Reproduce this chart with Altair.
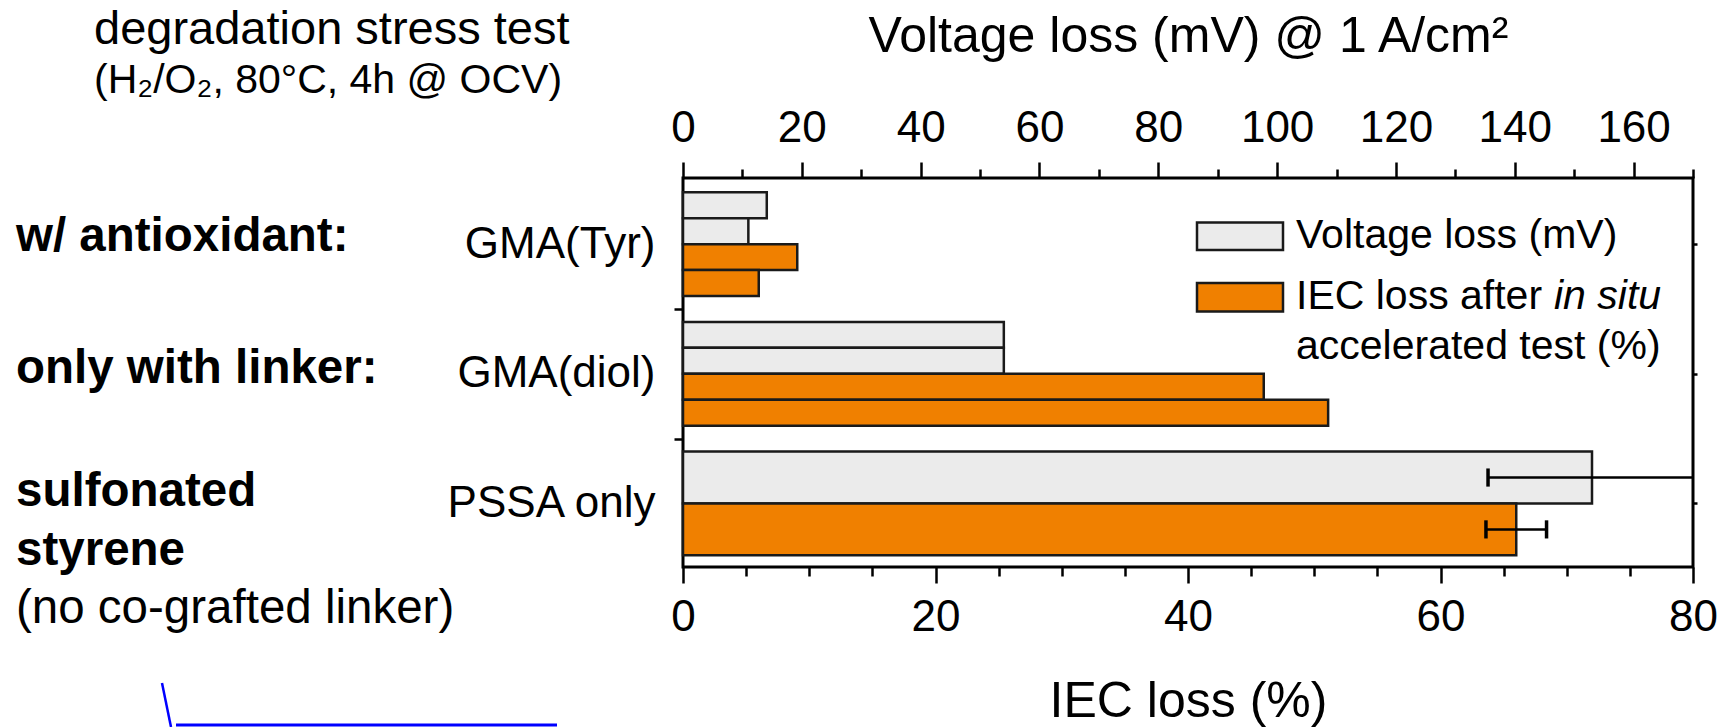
import altair as alt
import pandas as pd

# ---- data ----
samples = ["GMA(Tyr)", "GMA(diol)", "PSSA only"]

volt_sample = ["GMA(Tyr)", "GMA(Tyr)", "GMA(diol)", "GMA(diol)", "PSSA only"]
volt_mV = [14.1, 11.0, 54.0, 54.0, 153.0]
volt_err = [0.0, 0.0, 0.0, 0.0, 17.5]

iec_sample = ["GMA(Tyr)", "GMA(Tyr)", "GMA(diol)", "GMA(diol)", "PSSA only"]
iec_pct = [9.05, 6.0, 46.0, 51.1, 66.0]
iec_err = [0.0, 0.0, 0.0, 0.0, 2.4]

top_major = [0, 20, 40, 60, 80, 100, 120, 140, 160]
top_minor = [10, 30, 50, 70, 90, 110, 130, 150, 170]
bot_major = [0, 20, 40, 60, 80]
bot_minor = [5, 10, 15, 25, 30, 35, 45, 50, 55, 65, 70, 75]

# ---- build bar table (row slots inside each sample group) ----
rows = []
for g, s in enumerate(samples):
    v = [(val, e) for smp, val, e in zip(volt_sample, volt_mV, volt_err) if smp == s]
    i = [(val, e) for smp, val, e in zip(iec_sample, iec_pct, iec_err) if smp == s]
    n = len(v) + len(i)
    h = 4.0 / n
    k = 0
    for series, items in (("volt", v), ("iec", i)):
        for val, e in items:
            y0 = 5 * g + k * h
            y1 = y0 + h
            rows.append(dict(sample=s, series=series, value=val, err=e,
                             y0=y0, y1=y1, yc=(y0 + y1) / 2,
                             lo=val - e, hi=val + e,
                             c0=(y0 + y1) / 2 - 0.35, c1=(y0 + y1) / 2 + 0.35))
            k += 1
df = pd.DataFrame(rows)
vdf = df[df.series == "volt"]
idf = df[df.series == "iec"]
verr = vdf[vdf.err > 0]
ierr = idf[idf.err > 0]


def caps(d):
    out = []
    for _, r in d.iterrows():
        out.append(dict(x=r.lo, c0=r.c0, c1=r.c1))
        out.append(dict(x=r.hi, c0=r.c0, c1=r.c1))
    return pd.DataFrame(out)


FONT = "Liberation Sans"
STROKE = "#1a1a1a"
GREY = "#ebebeb"
ORANGE = "#f08000"

y_scale = alt.Scale(domain=[-0.55, 14.45], reverse=True, nice=False, zero=False)
xv_scale = alt.Scale(domain=[0, 170], nice=False, zero=False)
xi_scale = alt.Scale(domain=[0, 80], nice=False, zero=False)

group_centers = [2, 7, 12]
left_vals = [2, 4.5, 7, 9.5, 12]
label_expr = ("datum.value == 2 ? 'GMA(Tyr)' : datum.value == 7 ? 'GMA(diol)' : "
              "datum.value == 12 ? 'PSSA only' : ''")

left_axis = alt.Axis(orient="left", values=left_vals, labelExpr=label_expr, title=None,
                     tickSize=9, labelPadding=19, grid=False, domain=False,
                     labelFontSize=44, labelFont=FONT, labelLimit=0,
                     tickOpacity={"condition": {"test": "datum.value == 2 || datum.value == 7 || datum.value == 12",
                                                "value": 0}, "value": 1})
right_axis = alt.Axis(orient="right", values=group_centers, labels=False, title=None,
                      tickSize=4, grid=False, domain=False)

top_axis = alt.Axis(orient="top", values=top_major, tickSize=16, labelPadding=12, grid=False,
                    domain=False, labelFontSize=44, labelFont=FONT, labelFlush=False,
                    title="Voltage loss (mV) @ 1 A/cm²", titleFontSize=50, titleFont=FONT,
                    titleFontWeight="normal", titlePadding=45)
top_minor_axis = alt.Axis(orient="top", values=top_minor, tickSize=9, labels=False,
                          grid=False, domain=False, title=None)
bot_axis = alt.Axis(orient="bottom", values=bot_major, tickSize=16, labelPadding=12, grid=False,
                    domain=False, labelFontSize=44, labelFont=FONT, labelFlush=False,
                    title="IEC loss (%)", titleFontSize=50, titleFont=FONT,
                    titleFontWeight="normal", titlePadding=37)
bot_minor_axis = alt.Axis(orient="bottom", values=bot_minor, tickSize=9, labels=False,
                          grid=False, domain=False, title=None)

grey_bars = alt.Chart(vdf).mark_rect(fill=GREY, stroke=STROKE, strokeWidth=2.5).encode(
    x=alt.X("value:Q", scale=xv_scale, axis=top_axis),
    x2=alt.datum(0),
    y=alt.Y("y0:Q", scale=y_scale, axis=left_axis),
    y2="y1:Q",
)
grey_err = alt.Chart(verr).mark_rule(color="black", strokeWidth=2.5, clip=True).encode(
    x=alt.X("lo:Q", scale=xv_scale, axis=top_minor_axis),
    x2="hi:Q",
    y=alt.Y("yc:Q", scale=y_scale, axis=right_axis),
)
grey_caps = alt.Chart(caps(verr)).mark_rule(color="black", strokeWidth=3.5, clip=True).encode(
    x=alt.X("x:Q", scale=xv_scale, axis=None),
    y=alt.Y("c0:Q", scale=y_scale, axis=None),
    y2="c1:Q",
)
orange_bars = alt.Chart(idf).mark_rect(fill=ORANGE, stroke=STROKE, strokeWidth=2.5).encode(
    x=alt.X("value:Q", scale=xi_scale, axis=bot_axis),
    x2=alt.datum(0),
    y=alt.Y("y0:Q", scale=y_scale, axis=None),
    y2="y1:Q",
)
orange_err = alt.Chart(ierr).mark_rule(color="black", strokeWidth=2.5).encode(
    x=alt.X("lo:Q", scale=xi_scale, axis=bot_minor_axis),
    x2="hi:Q",
    y=alt.Y("yc:Q", scale=y_scale, axis=None),
)
orange_caps = alt.Chart(caps(ierr)).mark_rule(color="black", strokeWidth=3.5).encode(
    x=alt.X("x:Q", scale=xi_scale, axis=None),
    y=alt.Y("c0:Q", scale=y_scale, axis=None),
    y2="c1:Q",
)

one = alt.Data(values=[{"a": 1}])


def txt(s, x, y, size, weight="normal", style="normal", font=FONT, align="left"):
    return alt.Chart(one).mark_text(text=s, align=align, baseline="middle", fontSize=size,
                                    fontWeight=weight, fontStyle=style, font=font,
                                    color="black").encode(x=alt.value(x), y=alt.value(y))


def box(x1, x2, y1, y2, fill):
    return alt.Chart(one).mark_rect(fill=fill, stroke=STROKE, strokeWidth=2.5).encode(
        x=alt.value(x1), x2=alt.value(x2), y=alt.value(y1), y2=alt.value(y2))


annotations = [
    # legend
    box(514, 600, 44.5, 72, GREY),
    box(514, 600, 105, 133.5, ORANGE),
    txt("Voltage loss (mV)", 613, 58, 41),
    txt("IEC loss after ", 613, 119, 41),
    txt("in situ", 871, 119, 41, style="italic"),
    txt("accelerated test (%)", 613, 169, 41),
    # top-left note
    txt("degradation stress test", -589, -148, 47),
    txt("(H₂/O₂, 80°C, 4h @ OCV)", -589, -97, 41),
    # group labels
    txt("w/ antioxidant:", -667, 59, 47.5, weight="bold"),
    txt("only with linker:", -667, 191, 47.5, weight="bold"),
    txt("sulfonated", -667, 314, 47.5, weight="bold"),
    txt("styrene", -667, 373, 47.5, weight="bold"),
    txt("(no co-grafted linker)", -667, 431, 47.5),
]

artifact = [
    alt.Chart(one).mark_rule(color="#0000ff", strokeWidth=2.5).encode(
        x=alt.value(-521), x2=alt.value(-512), y=alt.value(505), y2=alt.value(549)),
    alt.Chart(one).mark_rule(color="#0000ff", strokeWidth=3).encode(
        x=alt.value(-507), x2=alt.value(-126), y=alt.value(547)),
]

chart = alt.layer(
    grey_bars, grey_err, grey_caps, orange_bars, orange_err, orange_caps,
    *annotations, *artifact
).resolve_scale(x="independent").resolve_axis(x="independent", y="independent").properties(
    width=1010, height=389,
    padding={"left": 683, "top": 178, "right": 34, "bottom": 160},
    autosize=alt.AutoSizeParams(type="none"),
    background="white",
).configure_view(stroke="black", strokeWidth=3).configure_axis(
    tickColor="black", tickWidth=2.5, labelColor="black", titleColor="black",
)

chart.save("out.html", embed_options={"renderer": "svg", "actions": False})
